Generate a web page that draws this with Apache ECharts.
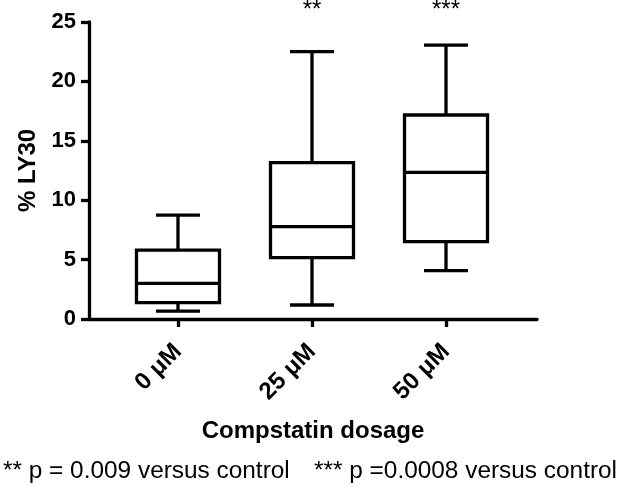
<!DOCTYPE html>
<html>
<head>
<meta charset="utf-8">
<script src="https://cdn.jsdelivr.net/npm/echarts@6/dist/echarts.min.js"></script>
<style>html,body{margin:0;padding:0;background:#fff;}#chart{width:625px;height:487px;}</style>
</head>
<body>
<div id="chart"></div>
<script>
const categories = ['0 \u03bcM', '25 \u03bcM', '50 \u03bcM'];
const minVals = [0.67, 1.18, 4.07];
const q1Vals = [1.37, 5.16, 6.51];
const medianVals = [3.0, 7.77, 12.35];
const q3Vals = [5.8, 13.16, 17.17];
const maxVals = [8.75, 22.5, 23.06];
const significance = ['', '**', '***'];
const yTickMin = 0, yTickMax = 25, yTickStep = 5;
const xTitle = 'Compstatin dosage';
const yTitle = '% LY30';
const footnotes = ['** p = 0.009 versus control', '*** p =0.0008 versus control'];

const FONT = 'Liberation Sans, Arial, Helvetica, sans-serif';
const boxData = categories.map((c, i) => [i, minVals[i], q1Vals[i], medianVals[i], q3Vals[i], maxVals[i]]);

const chart = echarts.init(document.getElementById('chart'), null, {renderer: 'canvas'});
chart.setOption({
  backgroundColor: '#fff',
  animation: false,
  title: [
    {text: footnotes[0], left: 3, top: 459, padding: 0,
     textStyle: {fontSize: 24.4, fontWeight: 'normal', fontFamily: FONT, color: '#000'}},
    {text: footnotes[1], left: 314, top: 459, padding: 0,
     textStyle: {fontSize: 24.4, fontWeight: 'normal', fontFamily: FONT, color: '#000'}}
  ],
  grid: {left: 89, right: 88, top: 22, bottom: 168, containLabel: false},
  xAxis: {
    type: 'value', min: -0.664, max: 2.679,
    name: xTitle, nameLocation: 'middle', nameGap: 100,
    nameTextStyle: {fontSize: 24, fontWeight: 'bold', fontFamily: FONT, color: '#000'},
    axisLine: {show: true, onZero: false, lineStyle: {color: '#000', width: 3.3}},
    axisTick: {show: true, inside: false, length: 8, lineStyle: {color: '#000', width: 3.3}, customValues: [0, 1, 2]},
    axisLabel: {show: true, rotate: 45, margin: 29, padding: [38, 0, 0, 0], fontSize: 24, fontWeight: 'bold', fontFamily: FONT, color: '#000',
      customValues: [0, 1, 2], formatter: v => categories[Math.round(v)]},
    splitLine: {show: false}
  },
  yAxis: {
    type: 'value', min: yTickMin, max: yTickMax, interval: yTickStep,
    name: yTitle, nameLocation: 'middle', nameGap: 49, nameRotate: 90,
    nameTextStyle: {fontSize: 24, fontWeight: 'bold', fontFamily: FONT, color: '#000'},
    axisLine: {show: true, onZero: false, lineStyle: {color: '#000', width: 3.3}},
    axisTick: {show: true, inside: false, length: 8, lineStyle: {color: '#000', width: 3.3}},
    axisLabel: {fontSize: 22, fontWeight: 'bold', fontFamily: FONT, color: '#000', margin: 13},
    splitLine: {show: false}
  },
  series: [{
    type: 'custom',
    clip: false,
    encode: {x: 0, y: [1, 2, 3, 4, 5]},
    data: boxData,
    renderItem: function (params, api) {
      const x = api.value(0);
      const c = k => api.coord([x, api.value(k)]);
      const pMin = c(1), pQ1 = c(2), pMed = c(3), pQ3 = c(4), pMax = c(5);
      const cx = pMin[0];
      const bh = 41.5, ch = 22;
      const ls = {stroke: '#000', lineWidth: 3.3, fill: null};
      const top = api.coord([x, yTickMax])[1];
      return {
        type: 'group',
        children: [
          {type: 'line', shape: {x1: cx, y1: pMin[1], x2: cx, y2: pQ1[1]}, style: ls},
          {type: 'line', shape: {x1: cx, y1: pQ3[1], x2: cx, y2: pMax[1]}, style: ls},
          {type: 'line', shape: {x1: cx - ch, y1: pMin[1], x2: cx + ch, y2: pMin[1]}, style: ls},
          {type: 'line', shape: {x1: cx - ch, y1: pMax[1], x2: cx + ch, y2: pMax[1]}, style: ls},
          {type: 'rect', shape: {x: cx - bh, y: pQ3[1], width: 2 * bh, height: pQ1[1] - pQ3[1]},
           style: {stroke: '#000', lineWidth: 3.3, fill: '#fff'}},
          {type: 'line', shape: {x1: cx - bh, y1: pMed[1], x2: cx + bh, y2: pMed[1]}, style: ls},
          {type: 'text', x: cx, y: top - 12,
           style: {text: significance[params.dataIndex], fill: '#000', font: 'normal 24px ' + FONT,
                   align: 'center', verticalAlign: 'middle'}}
        ]
      };
    }
  }]
});
</script>
</body>
</html>
